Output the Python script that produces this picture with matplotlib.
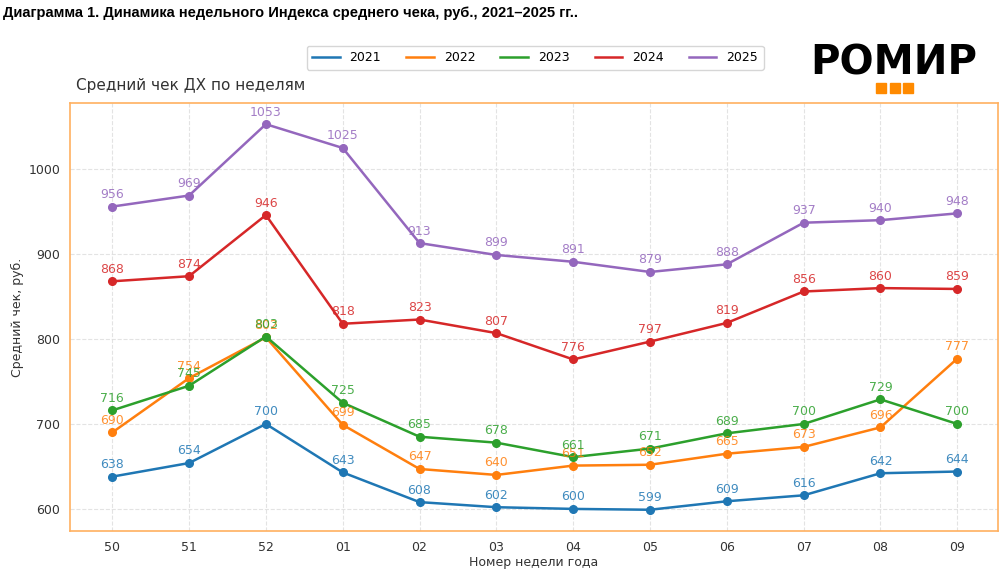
import matplotlib
matplotlib.use("Agg")
import matplotlib.pyplot as plt
from matplotlib.patches import Rectangle
from matplotlib.lines import Line2D

weeks = ["50", "51", "52", "01", "02", "03", "04", "05", "06", "07", "08", "09"]
series_names = ["2021", "2022", "2023", "2024", "2025"]
v2021 = [638, 654, 700, 643, 608, 602, 600, 599, 609, 616, 642, 644]
v2022 = [690, 754, 802, 699, 647, 640, 651, 652, 665, 673, 696, 777]
v2023 = [716, 745, 803, 725, 685, 678, 661, 671, 689, 700, 729, 700]
v2024 = [868, 874, 946, 818, 823, 807, 776, 797, 819, 856, 860, 859]
v2025 = [956, 969, 1053, 1025, 913, 899, 891, 879, 888, 937, 940, 948]
values = [v2021, v2022, v2023, v2024, v2025]
colors = ["#1f77b4", "#ff7f0e", "#2ca02c", "#d62728", "#9467bd"]

fig = plt.figure(figsize=(10, 5.72), dpi=100)
ax = fig.add_axes([0.07, 0.0717, 0.928, 0.7483])

x = list(range(len(weeks)))
handles = []
for name, vals, c in zip(series_names, values, colors):
    ax.plot(x, vals, color=c, marker="o", markersize=5.5, linewidth=1.8, label=name)
    handles.append(Line2D([], [], color=c, linewidth=1.8))
    for xi, v in zip(x, vals):
        ax.annotate(str(v), (xi, v), xytext=(0, 4), textcoords="offset points",
                    ha="center", va="bottom", fontsize=9, color=c, alpha=0.85)

ax.set_xticks(x)
ax.set_xticklabels(weeks)
ax.set_xlim(-0.55, 11.53)
ax.set_ylim(574, 1078)
ax.set_yticks([600, 700, 800, 900, 1000])
ax.tick_params(labelsize=9, colors="#333333", length=0, pad=7)
ax.grid(True, linestyle="--", color="#dddddd", linewidth=0.8, alpha=0.8)
ax.set_axisbelow(True)
for s in ax.spines.values():
    s.set_color("#ffb060")
    s.set_linewidth(1.2)

ax.set_xlabel("Номер недели года", fontsize=9, color="#333333", labelpad=2)
ax.set_ylabel("Средний чек, руб.", fontsize=9, color="#333333", labelpad=3)
ax.set_title("Средний чек ДХ по неделям", loc="left", fontsize=11, color="#333333", pad=9, x=0.007)

fig.legend(handles=handles, labels=series_names, loc="center", bbox_to_anchor=(0.535, 0.899),
           ncol=5, fontsize=9, frameon=True, edgecolor="#cccccc", handlelength=2.2,
           columnspacing=2.0, borderpad=0.45)

fig.text(0.003, 0.99, "Диаграмма 1. Динамика недельного Индекса среднего чека, руб., 2021–2025 гг..",
         fontsize=10.5, fontweight="bold", family="Liberation Sans", ha="left", va="top", color="#000000")

fig.text(0.894, 0.889, "РОМИР", fontsize=29, fontweight="heavy", family="DejaVu Sans",
         ha="center", va="center", color="#000000")
for i in range(3):
    fig.patches.append(Rectangle((0.876 + i * 0.0135, 0.838), 0.01, 0.0175,
                                 transform=fig.transFigure, color="#ff8a00"))

fig.savefig("out.png", dpi=100)
